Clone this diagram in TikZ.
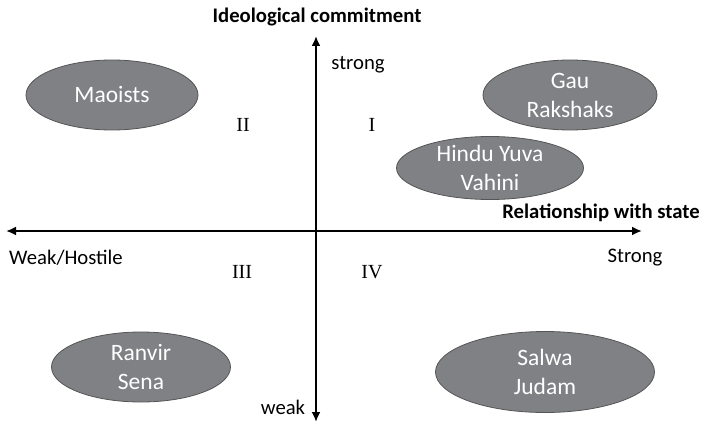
\documentclass[tikz,border=0pt]{standalone}
\usepackage{fontspec}
\setmainfont{Carlito}
\newfontfamily\romanfont{Liberation Serif}
\usetikzlibrary{shapes.geometric,arrows.meta}
\definecolor{blobfill}{HTML}{808184}
\definecolor{blobline}{HTML}{555555}
\tikzset{
  blob/.style={ellipse, fill=blobfill, draw=blobline, line width=0.8pt, inner sep=0pt},
  blobtext/.style={text=white, align=center, inner sep=0pt, font=\fontsize{23.5}{29}\selectfont},
  axis/.style={line width=2pt, -{Latex[length=10pt,width=9pt]}},
  lbl/.style={font=\fontsize{20.7}{24}\selectfont, inner sep=0pt},
  blbl/.style={font=\fontsize{20.7}{24}\selectfont\bfseries, inner sep=0pt},
  quad/.style={font=\romanfont\fontsize{20}{22}\selectfont, inner sep=0pt}
}
\begin{document}
\begin{tikzpicture}[x=1pt,y=1pt]
\useasboundingbox (0,0) rectangle (703,424);
% axes
\coordinate (O) at (316,193);
\coordinate (top) at (316,388);
\coordinate (bot) at (316,2);
\coordinate (left) at (6,193);
\coordinate (right) at (642,193);
\draw[axis] (O) -- (top);
\draw[axis] (O) -- (bot);
\draw[axis] (O) -- (left);
\draw[axis] (O) -- (right);
% axis labels
\node[blbl] (ideo) at (317,407) {Ideological commitment};
\node[blbl] (rel) at (601,211) {Relationship with state};
\node[lbl] (strong) at (358,359) {strong};
\node[lbl] (weak) at (283,17) {weak};
\node[lbl] (wh) at (66,166) {Weak/Hostile};
\node[lbl] (Strong) at (635,166) {Strong};
% quadrants
\node[quad] (q2) at (243,299) {II};
\node[quad] (q1) at (372,299) {I};
\node[quad] (q3) at (242,152) {III};
\node[quad] (q4) at (372,152) {IV};
% groups
\node[blob, minimum width=172pt, minimum height=70pt] (mao) at (112,329) {};
\node[blobtext] (maot) at (mao.center) {Maoists};
\node[blob, minimum width=174pt, minimum height=70pt] (gau) at (570,329) {};
\node[blobtext] (gaut) at (gau.center) {Gau\\Rakshaks};
\node[blob, minimum width=187pt, minimum height=63pt] (hyv) at (490,256) {};
\node[blobtext] (hyvt) at (hyv.center) {Hindu Yuva\\Vahini};
\node[blob, minimum width=179pt, minimum height=70pt] (ran) at (141,57) {};
\node[blobtext] (rant) at (ran.center) {Ranvir\\Sena};
\node[blob, minimum width=219pt, minimum height=81pt] (sal) at (545,52) {};
\node[blobtext] (salt) at (sal.center) {Salwa\\Judam};
\end{tikzpicture}
\end{document}
